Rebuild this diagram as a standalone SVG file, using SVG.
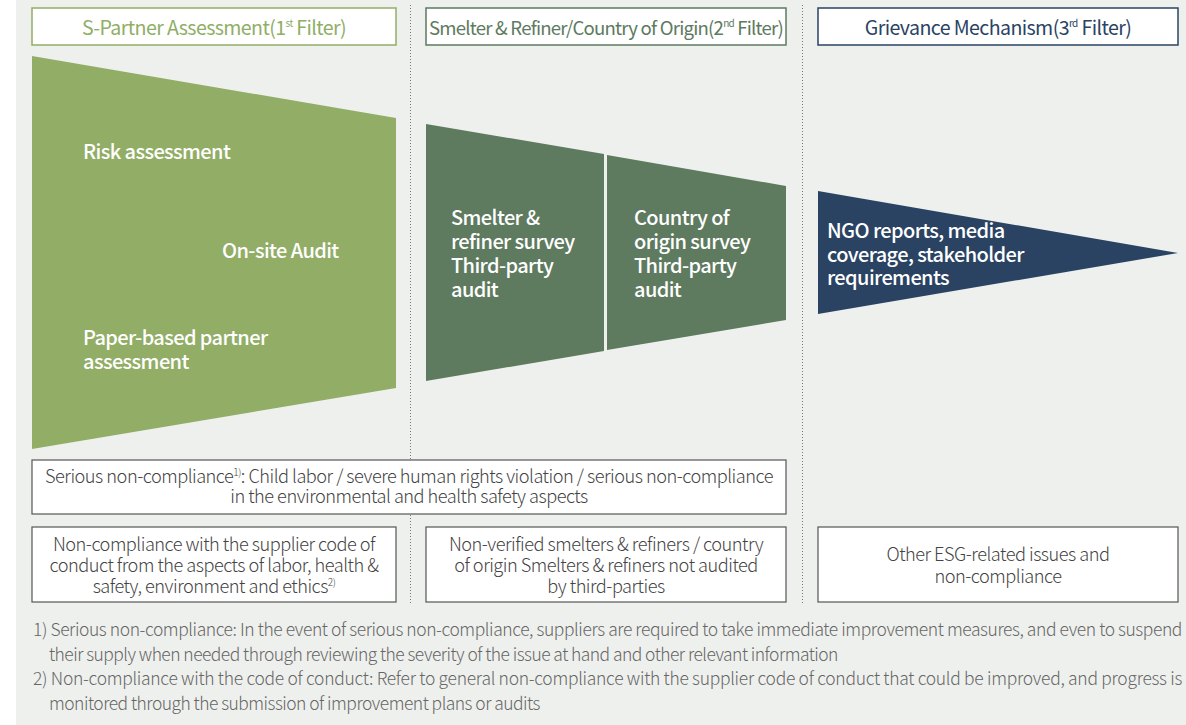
<svg xmlns="http://www.w3.org/2000/svg" width="1186" height="725" viewBox="0 0 1186 725">
<style>
text{font-family:"Noto Sans CJK KR","Noto Sans",sans-serif;}
.hdr{fill:#fff;stroke-width:1.5;}
.ht{font-size:19.6px;text-anchor:middle;letter-spacing:-0.6px;}
.wt{fill:#fff;font-size:20px;font-weight:500;letter-spacing:-0.6px;}
.box{fill:#fff;stroke:#555;stroke-width:1.2;}
.bt{fill:#444;font-size:18.2px;text-anchor:middle;font-weight:300;letter-spacing:-0.5px;}
.fn{fill:#666;font-size:17.45px;font-weight:300;letter-spacing:-0.4px;}
.dot{stroke:#777;stroke-width:1;stroke-dasharray:1 2;fill:none;}
.sup{font-size:10px;}
</style>
<rect x="0" y="0" width="1186" height="725" fill="#fff"/>
<rect x="16" y="0" width="1170" height="725" fill="#eef0ed"/>
<g id="connectors">
<line class="dot" x1="410.5" y1="5" x2="410.5" y2="605"/>
<line class="dot" x1="802.5" y1="5" x2="802.5" y2="605"/>
</g>
<g id="header1">
<rect class="hdr" x="32" y="8" width="364" height="37" stroke="#92ad66"/>
<text class="ht" x="214" y="35" fill="#8fae66">S-Partner Assessment(1<tspan class="sup" dy="-8">st</tspan><tspan dy="8"> Filter)</tspan></text>
</g>
<g id="header2">
<rect class="hdr" x="426" y="8" width="360" height="37" stroke="#5e7a5f"/>
<text class="ht" x="606" y="35" fill="#5e7a5f" style="font-size:18.6px;letter-spacing:-0.8px" textLength="354" lengthAdjust="spacing">Smelter &amp; Refiner/Country of Origin(2<tspan class="sup" dy="-8">nd</tspan><tspan dy="8"> Filter)</tspan></text>
</g>
<g id="header3">
<rect class="hdr" x="818" y="8" width="360" height="37" stroke="#2a4363"/>
<text class="ht" x="998" y="35" fill="#2a4363">Grievance Mechanism(3<tspan class="sup" dy="-8">rd</tspan><tspan dy="8"> Filter)</tspan></text>
</g>
<g id="filter1">
<polygon points="32,56 396,118 396,388 32,449" fill="#92ad66"/>
<text class="wt" x="83" y="159">Risk assessment</text>
<text class="wt" x="222" y="258">On-site Audit</text>
<text class="wt" x="83" y="345">Paper-based partner</text>
<text class="wt" x="83" y="369">assessment</text>
</g>
<g id="filter2">
<polygon points="426,124 604,154 604,351 426,381" fill="#5e7a5f"/>
<polygon points="607,155 786,186 786,320 607,350" fill="#5e7a5f"/>
<text class="wt" x="451" y="225">Smelter &amp;</text>
<text class="wt" x="451" y="249">refiner survey</text>
<text class="wt" x="451" y="273">Third-party</text>
<text class="wt" x="451" y="297">audit</text>
<text class="wt" x="634" y="225">Country of</text>
<text class="wt" x="634" y="249">origin survey</text>
<text class="wt" x="634" y="273">Third-party</text>
<text class="wt" x="634" y="297">audit</text>
</g>
<g id="filter3">
<polygon points="818,191 1178,253 818,314" fill="#2a4363"/>
<text class="wt" x="827" y="238">NGO reports, media</text>
<text class="wt" x="827" y="262">coverage, stakeholder</text>
<text class="wt" x="827" y="285">requirements</text>
</g>
<g id="serious">
<rect class="box" x="32" y="460" width="754" height="54"/>
<text class="bt" x="409" y="483">Serious non-compliance<tspan class="sup" dy="-7">1)</tspan><tspan dy="7">: Child labor / severe human rights violation / serious non-compliance</tspan></text>
<text class="bt" x="409" y="503">in the environmental and health safety aspects</text>
</g>
<g id="result1">
<rect class="box" x="32" y="527" width="364" height="75"/>
<text class="bt" x="214" y="551">Non-compliance with the supplier code of</text>
<text class="bt" x="214" y="572">conduct from the aspects of labor, health &amp;</text>
<text class="bt" x="214" y="593">safety, environment and ethics<tspan class="sup" dy="-7">2)</tspan></text>
</g>
<g id="result2">
<rect class="box" x="426" y="527" width="360" height="75"/>
<text class="bt" x="606" y="551">Non-verified smelters &amp; refiners / country</text>
<text class="bt" x="606" y="572">of origin Smelters &amp; refiners not audited</text>
<text class="bt" x="606" y="593">by third-parties</text>
</g>
<g id="result3">
<rect class="box" x="818" y="527" width="360" height="75"/>
<text class="bt" x="998" y="561">Other ESG-related issues and</text>
<text class="bt" x="998" y="583">non-compliance</text>
</g>
<g id="footnotes">
<text class="fn" x="33" y="636" textLength="1149" lengthAdjust="spacing">1) Serious non-compliance: In the event of serious non-compliance, suppliers are required to take immediate improvement measures, and even to suspend</text>
<text class="fn" x="49" y="661" textLength="789" lengthAdjust="spacing">their supply when needed through reviewing the severity of the issue at hand and other relevant information</text>
<text class="fn" x="33" y="685" textLength="1149" lengthAdjust="spacing">2) Non-compliance with the code of conduct: Refer to general non-compliance with the supplier code of conduct that could be improved, and progress is</text>
<text class="fn" x="49" y="710" textLength="491" lengthAdjust="spacing">monitored through the submission of improvement plans or audits</text>
</g>
</svg>
